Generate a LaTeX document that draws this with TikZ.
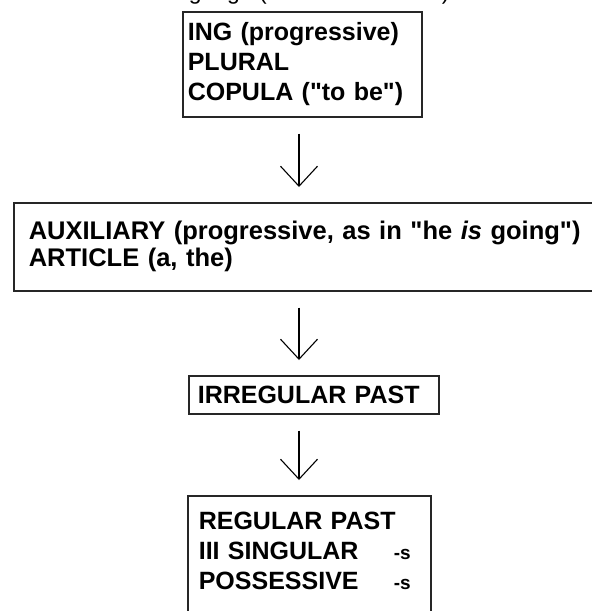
\documentclass[tikz,border=0pt]{standalone}
\usepackage{fontspec}
\setmainfont{Liberation Sans}
\usetikzlibrary{calc,arrows.meta,positioning}
\newcommand{\dq}{\textquotedbl}

\begin{document}
\begin{tikzpicture}[x=1pt,y=-1pt,font=\fontsize{25}{30}\selectfont\bfseries]

\tikzset{stagebox/.style={draw=black!85,line width=1.6pt,shape=rectangle,anchor=north west,align=left,inner xsep=10pt,inner ysep=0pt},
stagearrow/.style={line width=1.1pt,-{Straight Barb[length=20pt,width=37pt,line width=1.1pt]},shorten <=16pt,shorten >=15pt}}

% Page
\useasboundingbox (0,0) rectangle (592,611);
\clip (0,0) rectangle (592,611);

% Title, cut off at the top
\node[anchor=base,font=\fontsize{23}{28}\selectfont] (title) at (300,-1) {Language (from Brown 1973)};

% Stages
\node[stagebox,inner xsep=5pt,text width=229pt,minimum height=105pt] (ing) at (182,11) {ING (progressive)\\PLURAL\\COPULA (\dq to be\dq)};
\node[stagebox,inner xsep=15pt,text width=588pt,minimum height=88pt,font=\fontsize{25.5}{27}\selectfont\bfseries] (aux) at (13,202) {AUXILIARY (progressive, as in \dq he \textit{is} going\dq)\\ARTICLE (a, the)};
\node[stagebox,inner xsep=9pt,text width=232pt,minimum height=38pt] (irr) at (188,375) {IRREGULAR PAST};
\node[stagebox,inner xsep=11pt,inner ysep=16pt,text width=221pt,text depth=90pt] (reg) at (187,495) {REGULAR PAST\\
\makebox[195pt][l]{III SINGULAR}{\fontsize{19}{19}\selectfont -s}\\
\makebox[195pt][l]{POSSESSIVE}{\fontsize{19}{19}\selectfont -s}};

% Arrows
\coordinate (spine) at (299,0);
\draw[stagearrow] (ing.south -| spine) -- (aux.north -| spine);
\draw[stagearrow] (aux.south -| spine) -- (irr.north -| spine);
\draw[stagearrow] (irr.south -| spine) -- (reg.north -| spine);

\end{tikzpicture}
\end{document}
